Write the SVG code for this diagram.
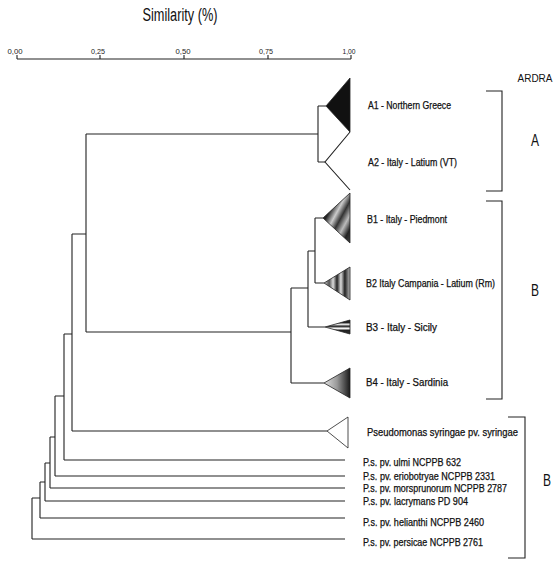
<svg xmlns="http://www.w3.org/2000/svg" width="560" height="565" viewBox="0 0 560 565">
<style>
.ln{fill:none;stroke:#222;stroke-width:1.1}
.tx{font-family:"Liberation Sans",Arial,sans-serif;font-size:10px;fill:#111;stroke:#111;stroke-width:0.25}
.ax{font-family:"Liberation Sans",Arial,sans-serif;font-size:8px;fill:#222;text-anchor:middle}
.big{font-family:"Liberation Sans",Arial,sans-serif;fill:#111;text-anchor:middle}
.tri{stroke:#222;stroke-width:0.8}
</style>
<defs>
<linearGradient id="gB1" x1="0" y1="0" x2="1" y2="1">
<stop offset="0" stop-color="#666"/><stop offset="0.3" stop-color="#222"/><stop offset="0.45" stop-color="#ccc"/><stop offset="0.58" stop-color="#333"/><stop offset="0.72" stop-color="#bbb"/><stop offset="0.86" stop-color="#222"/><stop offset="1" stop-color="#444"/>
</linearGradient>
<linearGradient id="gB2" x1="0" y1="0" x2="1" y2="0">
<stop offset="0" stop-color="#ccc"/><stop offset="0.2" stop-color="#555"/><stop offset="0.35" stop-color="#ddd"/><stop offset="0.5" stop-color="#222"/><stop offset="0.65" stop-color="#ddd"/><stop offset="0.8" stop-color="#222"/><stop offset="1" stop-color="#bbb"/>
</linearGradient>
<linearGradient id="gB3" x1="0" y1="0" x2="0" y2="1">
<stop offset="0" stop-color="#222"/><stop offset="0.2" stop-color="#222"/><stop offset="0.3" stop-color="#fff"/><stop offset="0.45" stop-color="#222"/><stop offset="0.6" stop-color="#fff"/><stop offset="0.75" stop-color="#222"/><stop offset="1" stop-color="#333"/>
</linearGradient>
<linearGradient id="gB4" x1="0" y1="0" x2="1" y2="0">
<stop offset="0" stop-color="#e0e0e0"/><stop offset="0.5" stop-color="#999"/><stop offset="1" stop-color="#1a1a1a"/>
</linearGradient>
</defs>

<g id="axis">
<text class="big" x="180" y="21" font-size="18" textLength="75" lengthAdjust="spacingAndGlyphs">Similarity (%)</text>
<path class="ln" d="M17,59H351M17,55V59M100,55V59M184,55V59M268,55V59M351,55V59"/>
<text class="ax" x="15" y="54" textLength="15" lengthAdjust="spacingAndGlyphs">0,00</text>
<text class="ax" x="98" y="54" textLength="14" lengthAdjust="spacingAndGlyphs">0,25</text>
<text class="ax" x="183" y="54" textLength="15" lengthAdjust="spacingAndGlyphs">0,50</text>
<text class="ax" x="266" y="54" textLength="14" lengthAdjust="spacingAndGlyphs">0,75</text>
<text class="ax" x="349" y="54" textLength="13" lengthAdjust="spacingAndGlyphs">1,00</text>
</g>

<g id="connectors">
<path class="ln" d="M318,106V162M318,106H326M318,162H325M86,134H318"/>
<path class="ln" d="M315,218V283M315,218H323M315,283H324M308,251H315M308,251V327M308,327H325M291,288H308M291,288V383M291,383H324M86,332H291"/>
<path class="ln" d="M86,134V332M72,234H86M72,234V431M72,431H327M64,334H72M64,334V460M64,460H345M55,396H64M55,396V476M55,476H345M50,437H55M50,437V488M50,488H345M45,463H50M45,463V501M45,501H345M40,482H45M40,482V518M40,518H345M32,498H40M32,498V539M32,539H345"/>
</g>

<g id="A1">
<polygon class="tri" points="326,106 350,78 350,132" fill="#111"/>
<text class="tx" x="368" y="109" textLength="83" lengthAdjust="spacingAndGlyphs">A1 - Northern Greece</text>
</g>
<g id="A2">
<path class="ln" d="M350,132L325,162L350,190"/>
<text class="tx" x="368" y="166" textLength="89" lengthAdjust="spacingAndGlyphs">A2 - Italy - Latium (VT)</text>
</g>
<g id="B1">
<polygon class="tri" points="323,218 350,193 350,243" fill="url(#gB1)"/>
<text class="tx" x="367" y="223" textLength="80" lengthAdjust="spacingAndGlyphs">B1 - Italy - Piedmont</text>
</g>
<g id="B2">
<polygon class="tri" points="324,283 350,267 350,300" fill="url(#gB2)"/>
<text class="tx" x="366" y="287" textLength="129" lengthAdjust="spacingAndGlyphs">B2 Italy Campania - Latium (Rm)</text>
</g>
<g id="B3">
<polygon class="tri" points="325,327 350,320 350,334" fill="url(#gB3)"/>
<text class="tx" x="366" y="331" textLength="71" lengthAdjust="spacingAndGlyphs">B3 - Italy - Sicily</text>
</g>
<g id="B4">
<polygon class="tri" points="324,383 350,368 350,398" fill="url(#gB4)"/>
<text class="tx" x="366" y="386" textLength="82" lengthAdjust="spacingAndGlyphs">B4 - Italy - Sardinia</text>
</g>
<g id="Pss">
<polygon class="tri" points="327,431 348,417 348,448" fill="#fff"/>
<text class="tx" x="367" y="436" textLength="151" lengthAdjust="spacingAndGlyphs">Pseudomonas syringae pv. syringae</text>
</g>
<g id="ulmi"><text class="tx" x="363" y="466" textLength="98" lengthAdjust="spacingAndGlyphs">P.s. pv. ulmi NCPPB 632</text></g>
<g id="eriobotryae"><text class="tx" x="363" y="480" textLength="132" lengthAdjust="spacingAndGlyphs">P.s. pv. eriobotryae NCPPB 2331</text></g>
<g id="morsprunorum"><text class="tx" x="363" y="492" textLength="144" lengthAdjust="spacingAndGlyphs">P.s. pv. morsprunorum NCPPB 2787</text></g>
<g id="lacrymans"><text class="tx" x="363" y="505" textLength="105" lengthAdjust="spacingAndGlyphs">P.s. pv. lacrymans PD 904</text></g>
<g id="helianthi"><text class="tx" x="363" y="526" textLength="121" lengthAdjust="spacingAndGlyphs">P.s. pv. helianthi NCPPB 2460</text></g>
<g id="persicae"><text class="tx" x="363" y="546" textLength="120" lengthAdjust="spacingAndGlyphs">P.s. pv. persicae NCPPB 2761</text></g>

<g id="groups">
<text class="big" x="535" y="82" font-size="11" textLength="35" lengthAdjust="spacingAndGlyphs">ARDRA</text>
<path class="ln" d="M486,91H502V191H486"/>
<text class="big" x="535" y="146" font-size="16" textLength="8" lengthAdjust="spacingAndGlyphs">A</text>
<path class="ln" d="M486,201H502V399H486"/>
<text class="big" x="535" y="296" font-size="16" textLength="8" lengthAdjust="spacingAndGlyphs">B</text>
<path class="ln" d="M508,417H525V558H508"/>
<text class="big" x="547" y="486" font-size="16" textLength="8" lengthAdjust="spacingAndGlyphs">B</text>
</g>
</svg>
